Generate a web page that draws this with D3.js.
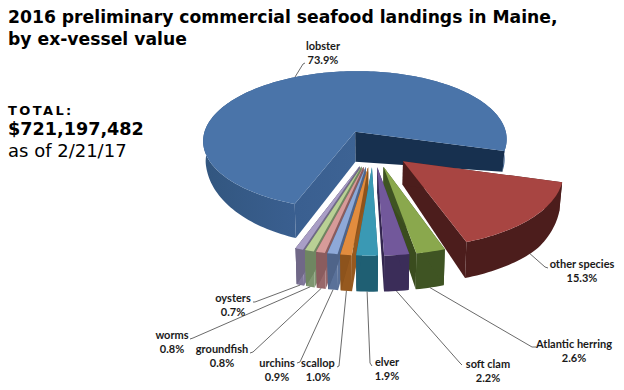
<!DOCTYPE html>
<html>
<head>
<meta charset="utf-8">
<script src="https://cdn.jsdelivr.net/npm/d3@7"></script>
<style>
body { margin: 0; background: #fff; }
svg { display: block; }
.head { font-family: "DejaVu Sans", sans-serif; fill: #000; }
.lab { font-family: Lato, sans-serif; font-size: 11px; font-weight: 700; fill: #1a1a1a; text-anchor: middle; }
.leader { fill: none; stroke: #444; stroke-width: 0.8; }
</style>
</head>
<body>
<div id="chart"></div>
<script>
let categories = ["lobster", "other species", "Atlantic herring", "soft clam", "elver", "scallop", "urchins", "groundfish", "worms", "oysters"];
let shares = [73.9, 15.3, 2.6, 2.2, 1.9, 1.0, 0.9, 0.8, 0.8, 0.7];

let topColors = ["#4a74a9", "#a84542", "#8aa84d", "#72589b", "#3a99b4", "#e28c3e", "#8ea9d8", "#d79b99", "#b9d095", "#a99ec6"];
let sideColors = ["url(#lobsterWall)", "#4c1d1c", "#3f5423", "#3b2d59", "#1f5f73", "#96591f", "#5a7199", "#98686a", "#7f9671", "#7f769a"];
let innerColors = ["#17304f", "#4c1d1c", "#3a4c1e", "#33264f", "#1f5f73", "#8d531c", "#4f6489", "#8a5c5e", "#6f8661", "#706887"];

// label centre x, first baseline, where the leader ends
let labelLayout = [
    {x: 323, y: 50, lx: 305, ly: 63, bend: [303, 64]},
    {x: 582, y: 268, lx: 548, ly: 268, bend: [545, 267]},
    {x: 574, y: 348, lx: 536, ly: 347, bend: [532, 347]},
    {x: 488, y: 368, lx: 462, ly: 365, bend: [460, 363]},
    {x: 387, y: 366, lx: 372, ly: 366, bend: [370, 363]},
    {x: 318, y: 367, lx: 337, ly: 367, bend: [339, 366]},
    {x: 277, y: 367, lx: 297, ly: 363, bend: [300, 362]},
    {x: 222, y: 353, lx: 250, ly: 353, bend: [253, 352]},
    {x: 172, y: 339, lx: 190, ly: 339, bend: [193, 338]},
    {x: 233, y: 302, lx: 253, ly: 302, bend: [255, 302]}
];

let width = 624, height = 390;
let cx = 373, cy = 148;
let rx = 155, ry = 72;
let persp = 0.125;
let explode = 0.26;

let svg = d3.select("#chart")
    .append("svg")
    .attr("width", width)
    .attr("height", height);

let grad = svg.append("defs").append("linearGradient")
    .attr("id", "lobsterWall")
    .attr("gradientUnits", "userSpaceOnUse")
    .attr("x1", 204).attr("x2", 357).attr("y1", 0).attr("y2", 0);
grad.append("stop").attr("offset", "0%").attr("stop-color", "#32567f");
grad.append("stop").attr("offset", "60%").attr("stop-color", "#3a5f90");
grad.append("stop").attr("offset", "100%").attr("stop-color", "#3d6394");

// title and total
svg.append("text").attr("class", "head").attr("x", 8).attr("y", 23)
    .style("font-size", "17.2px").style("font-weight", "700")
    .text("2016 preliminary commercial seafood landings in Maine,");
svg.append("text").attr("class", "head").attr("x", 8).attr("y", 45)
    .style("font-size", "17.2px").style("font-weight", "700")
    .text("by ex-vessel value");
svg.append("text").attr("class", "head").attr("x", 8).attr("y", 115)
    .style("font-size", "13px").style("font-weight", "700").style("letter-spacing", "2.4px")
    .text("TOTAL:");
svg.append("text").attr("class", "head").attr("x", 8).attr("y", 135)
    .style("font-size", "17.6px").style("font-weight", "700")
    .text("$721,197,482");
svg.append("text").attr("class", "head").attr("x", 8).attr("y", 157)
    .style("font-size", "18px")
    .text("as of 2/21/17");

// lobster starts at 200deg from 12 o'clock, going clockwise
let pie = d3.pie().sort(null).startAngle(200 * Math.PI / 180).endAngle(560 * Math.PI / 180);
let arcs = pie(shares);

// a = screen angle (0 is east, clockwise), r in radius units
function project(slice, a, r, lower) {
    let mid = (slice.startAngle + slice.endAngle) / 2 - Math.PI / 2;
    let X = explode * Math.cos(mid) + r * Math.cos(a);
    let Y = explode * Math.sin(mid) + r * Math.sin(a);
    let s = 1 / (1 - persp * Y);
    let px = cx + rx * X * s;
    let py = cy + ry * Y * s;
    if (lower) {
        px = cx + (px - cx) * 0.985;
        py += Math.max(20, Math.min(36, 20 + 20 * Y));
    }
    return [px, py];
}

let line = d3.line();

function rim(slice, lower) {
    let a0 = slice.startAngle - Math.PI / 2;
    let a1 = slice.endAngle - Math.PI / 2;
    let n = Math.max(2, Math.ceil((a1 - a0) * 40));
    return d3.range(n + 1).map(i => project(slice, a0 + (a1 - a0) * i / n, 1, lower));
}

// back to front: lobster, other species, then the slivers from both ends to the middle
let order = [0, 1, 9, 2, 8, 7, 6, 3, 5, 4];

order.forEach(i => {
    let d = arcs[i];
    let g = svg.append("g");
    let a0 = d.startAngle - Math.PI / 2;
    let a1 = d.endAngle - Math.PI / 2;

    // lobster's inner corner reads deeper than the model gives
    let apexDrop = i == 0 ? 10 : 0;
    let wall = (a, color) => {
        let apex = project(d, 0, 0, true);
        g.append("path")
            .attr("d", line([project(d, 0, 0, false), project(d, a, 1, false), project(d, a, 1, true), [apex[0], apex[1] + apexDrop]]) + "Z")
            .attr("fill", color);
    };

    // outer wall
    g.append("path")
        .attr("d", line(rim(d, false).concat(rim(d, true).reverse())) + "Z")
        .attr("fill", sideColors[i]);

    // the lobster shows the far cut in navy, the rest show the side toward the middle
    wall(a1, innerColors[i]);
    wall(a0, sideColors[i]);
    if (i >= 5) wall(a1, innerColors[i]);

    g.append("path")
        .attr("d", line([project(d, 0, 0, false)].concat(rim(d, false))) + "Z")
        .attr("fill", topColors[i]);
});

// labels and leaders
arcs.forEach((d, i) => {
    let mid = (d.startAngle + d.endAngle) / 2 - Math.PI / 2;
    let l = labelLayout[i];
    let start = project(d, mid, 1, Math.sin(mid) > 0);
    svg.append("path")
        .attr("class", "leader")
        .attr("d", line([start, l.bend, [l.lx, l.ly]]));
    svg.append("text").attr("class", "lab").attr("x", l.x).attr("y", l.y).text(categories[i]);
    svg.append("text").attr("class", "lab").attr("x", l.x).attr("y", l.y + 14).text(d3.format(".1f")(shares[i]) + "%");
});
</script>
</body>
</html>
